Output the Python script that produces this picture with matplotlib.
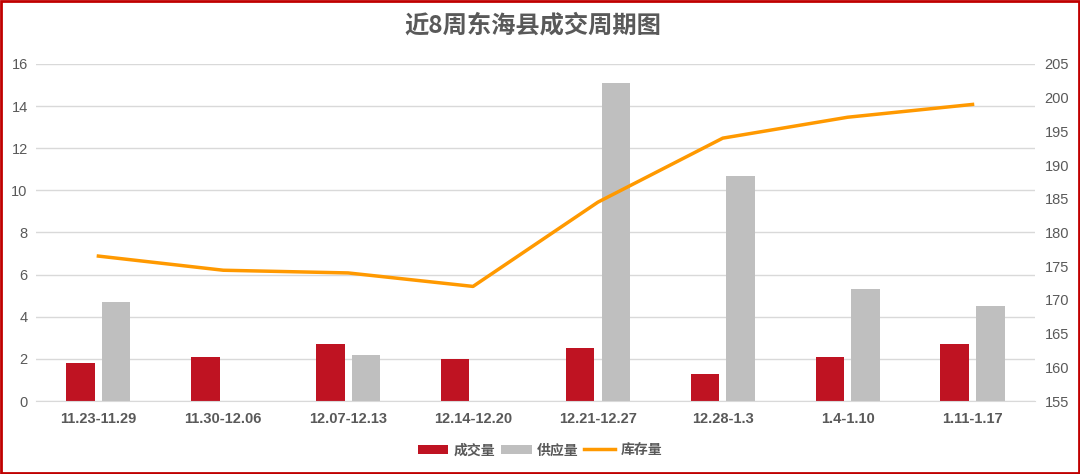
import matplotlib
matplotlib.use("Agg")
import matplotlib.pyplot as plt
import numpy as np
from matplotlib.patches import Rectangle

plt.rcParams['font.family'] = ['Liberation Sans', 'Noto Sans CJK SC', 'DejaVu Sans']

weeks = ["11.23-11.29", "11.30-12.06", "12.07-12.13", "12.14-12.20",
         "12.21-12.27", "12.28-1.3", "1.4-1.10", "1.11-1.17"]
deals = [1.8, 2.1, 2.7, 2.0, 2.5, 1.3, 2.1, 2.7]
supply = [4.7, 0, 2.2, 0, 15.1, 10.7, 5.3, 4.5]
stock = [176.5, 174.4, 174.0, 172.0, 184.5, 194.0, 197.1, 199.0]

red = "#BF1322"
gray = "#BFBFBF"
orange = "#FF9900"
txt = "#595959"
cjk = ['Noto Sans CJK SC', 'DejaVu Sans']

fig = plt.figure(figsize=(10.8, 4.74), dpi=100)
ax = fig.add_axes([0.0333, 0.154, 0.925, 0.711])
ax2 = ax.twinx()

x = np.arange(len(weeks))
w = 0.228
ax.bar(x - 0.143, deals, w, color=red, label="成交量", zorder=2)
ax.bar(x + 0.143, supply, w, color=gray, label="供应量", zorder=2)
ax2.plot(x, stock, color=orange, lw=2.5, label="库存量", zorder=3)

ax.set_xlim(-0.5, len(weeks) - 0.5)
ax.set_ylim(0, 16)
ax.set_yticks(range(0, 17, 2))
ax2.set_ylim(155, 205)
ax2.set_yticks(range(155, 206, 5))
ax.set_xticks(x)
ax.set_xticklabels(weeks, fontsize=10, fontweight='bold', color=txt)

ax.grid(axis='y', color="#D9D9D9", lw=1, zorder=0)
ax.set_axisbelow(True)
for a in (ax, ax2):
    for s in a.spines.values():
        s.set_visible(False)
    a.tick_params(length=0, colors=txt, labelsize=10.5)
ax.spines['bottom'].set_visible(True)
ax.spines['bottom'].set_color("#D9D9D9")
ax.tick_params(axis='y', pad=6)
ax2.tick_params(axis='y', pad=7)
ax.tick_params(axis='x', pad=8)

fig.suptitle("近8周东海县成交周期图", x=0.4935, y=0.947, va='center', fontsize=17.5,
             fontweight='bold', color=txt, family=cjk)

h1, l1 = ax.get_legend_handles_labels()
h2, l2 = ax2.get_legend_handles_labels()
leg = fig.legend(h1 + h2, l1 + l2, loc='center', bbox_to_anchor=(0.5, 0.05),
                 ncol=3, frameon=False, handlelength=2.2,
                 handletextpad=0.4, columnspacing=0.4,
                 prop={'family': cjk, 'size': 10, 'weight': 'bold'})
for t in leg.get_texts():
    t.set_color(txt)

fig.patches.append(Rectangle((0.001, 0.002), 0.998, 0.996, transform=fig.transFigure,
                             fill=False, edgecolor="#C00000", lw=2))

fig.savefig("out.png", dpi=100)
